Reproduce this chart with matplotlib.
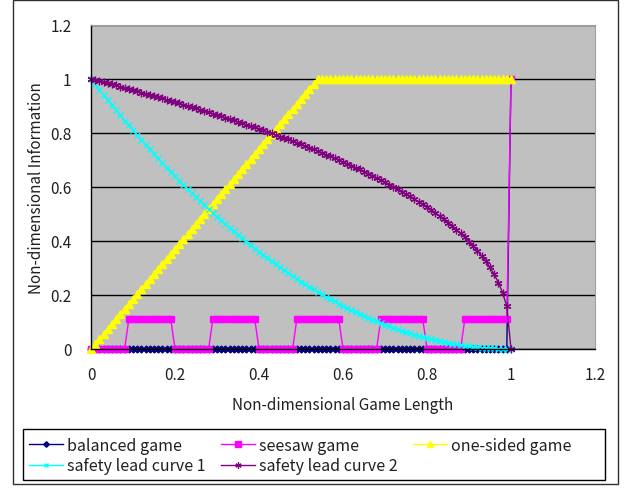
import numpy as np
import matplotlib
matplotlib.use('Agg')
import matplotlib.pyplot as plt
from matplotlib.patches import Rectangle
from matplotlib.ticker import FuncFormatter, MultipleLocator

plt.rcParams['font.family'] = ['Noto Sans CJK JP', 'DejaVu Sans']

# game length grid (0 .. 1, step 0.01)
game_length = [i / 100 for i in range(101)]

balanced = [0.0] * 100 + [1.0]

seesaw = ([0.0] * 9 + [0.11] * 11 + [0.0] * 9 + [0.11] * 11 + [0.0] * 9 + [0.11] * 11
          + [0.0] * 9 + [0.11] * 11 + [0.0] * 9 + [0.11] * 11 + [1.0])

one_sided = [0.0, 0.019, 0.037, 0.056, 0.074, 0.093, 0.111, 0.13, 0.148, 0.167,
             0.185, 0.204, 0.222, 0.241, 0.259, 0.278, 0.296, 0.315, 0.333, 0.352,
             0.37, 0.389, 0.407, 0.426, 0.444, 0.463, 0.481, 0.5, 0.519, 0.537,
             0.556, 0.574, 0.593, 0.611, 0.63, 0.648, 0.667, 0.685, 0.704, 0.722,
             0.741, 0.759, 0.778, 0.796, 0.815, 0.833, 0.852, 0.87, 0.889, 0.907,
             0.926, 0.944, 0.963, 0.981] + [1.0] * 47

safety1 = [1.0, 0.98, 0.96, 0.941, 0.922, 0.903, 0.884, 0.865, 0.846, 0.828,
           0.81, 0.792, 0.774, 0.757, 0.74, 0.723, 0.706, 0.689, 0.672, 0.656,
           0.64, 0.624, 0.608, 0.593, 0.578, 0.563, 0.548, 0.533, 0.518, 0.504,
           0.49, 0.476, 0.462, 0.449, 0.436, 0.423, 0.41, 0.397, 0.384, 0.372,
           0.36, 0.348, 0.336, 0.325, 0.314, 0.303, 0.292, 0.281, 0.27, 0.26,
           0.25, 0.24, 0.23, 0.221, 0.212, 0.203, 0.194, 0.185, 0.176, 0.168,
           0.16, 0.152, 0.144, 0.137, 0.13, 0.123, 0.116, 0.109, 0.102, 0.096,
           0.09, 0.084, 0.078, 0.073, 0.068, 0.063, 0.058, 0.053, 0.048, 0.044,
           0.04, 0.036, 0.032, 0.029, 0.026, 0.023, 0.02, 0.017, 0.014, 0.012,
           0.01, 0.008, 0.006, 0.005, 0.004, 0.003, 0.002, 0.001, 0.0, 0.0, 0.0]

safety2 = [1.0, 0.996, 0.992, 0.988, 0.984, 0.98, 0.976, 0.971, 0.967, 0.963,
           0.959, 0.954, 0.95, 0.946, 0.941, 0.937, 0.933, 0.928, 0.924, 0.919,
           0.915, 0.91, 0.905, 0.901, 0.896, 0.891, 0.887, 0.882, 0.877, 0.872,
           0.867, 0.862, 0.857, 0.852, 0.847, 0.842, 0.837, 0.831, 0.826, 0.821,
           0.815, 0.81, 0.804, 0.799, 0.793, 0.787, 0.782, 0.776, 0.77, 0.764,
           0.758, 0.752, 0.746, 0.739, 0.733, 0.727, 0.72, 0.714, 0.707, 0.7,
           0.693, 0.686, 0.679, 0.672, 0.665, 0.657, 0.65, 0.642, 0.634, 0.626,
           0.618, 0.609, 0.601, 0.592, 0.583, 0.574, 0.565, 0.555, 0.546, 0.536,
           0.525, 0.515, 0.504, 0.492, 0.48, 0.468, 0.455, 0.442, 0.428, 0.414,
           0.398, 0.382, 0.364, 0.345, 0.325, 0.302, 0.276, 0.246, 0.209, 0.158, 0.0]

fig = plt.figure(figsize=(6.25, 4.89), dpi=100)
ax = fig.add_axes([91 / 625, 1 - 350 / 489, 504 / 625, 324 / 489])
ax.set_facecolor('#c0c0c0')

h1, = ax.plot(game_length, balanced, color='#000080', marker='D', markersize=3.5,
              lw=1, label='balanced game', clip_on=False)
h2, = ax.plot(game_length, seesaw, color='#ff00ff', marker='s', markersize=5,
              lw=1, label='seesaw game', clip_on=False)
h3, = ax.plot(game_length, one_sided, color='#ffff00', marker='^', markersize=5.5,
              lw=1, label='one-sided game', clip_on=False)
h4, = ax.plot(game_length, safety1, color='#00ffff', marker='x', markersize=3.8,
              mew=1, lw=1, label='safety lead curve 1', clip_on=False)
h5, = ax.plot(game_length, safety2, color='#800080', marker=(6, 2, 0), markersize=5.5,
              mew=0.9, lw=1, label='safety lead curve 2', clip_on=False)

ax.set_xlim(0, 1.2)
ax.set_ylim(0, 1.2)
ax.xaxis.set_major_locator(MultipleLocator(0.2))
ax.yaxis.set_major_locator(MultipleLocator(0.2))
fmt = FuncFormatter(lambda v, p: '%g' % round(v, 1))
ax.xaxis.set_major_formatter(fmt)
ax.yaxis.set_major_formatter(fmt)
ax.tick_params(length=0, labelsize=11, colors='#202020')
ax.tick_params(axis='y', pad=14)
ax.tick_params(axis='x', pad=12)

ax.yaxis.grid(True, color='black', lw=1)
ax.set_axisbelow(True)
for side in ['top', 'right']:
    ax.spines[side].set_color('#a0a0a0')
    ax.spines[side].set_linewidth(0.8)
for side in ['left', 'bottom']:
    ax.spines[side].set_color('black')
    ax.spines[side].set_linewidth(1)

ax.set_xlabel('Non-dimensional Game Length', fontsize=11, color='#202020')
ax.set_ylabel('Non-dimensional Information', fontsize=11, color='#202020')
ax.xaxis.set_label_coords(0.5, -0.145)
ax.yaxis.set_label_coords(-0.092, 0.5)

# legend entries laid out row by row like the original (3 columns)
leg = fig.legend([h1, h4, h2, h5, h3],
                 ['balanced game', 'safety lead curve 1', 'seesaw game',
                  'safety lead curve 2', 'one-sided game'],
                 ncol=3, loc='upper left',
                 bbox_to_anchor=(29 / 625, 1 - 438 / 489),
                 borderaxespad=0, borderpad=0, fontsize=11.5, frameon=False,
                 handlelength=2.1, handletextpad=0.3, labelspacing=0.2,
                 columnspacing=0.95, markerscale=0.8)
for t in leg.get_texts():
    t.set_color('#202020')

# legend box
fig.patches.append(Rectangle((23 / 625, 1 - 481 / 489), 582 / 625, 51 / 489,
                             transform=fig.transFigure, fill=False,
                             edgecolor='black', lw=1))
# chart border
fig.patches.append(Rectangle((13 / 625, 1 - 485 / 489), 605 / 625, 484 / 489,
                             transform=fig.transFigure, fill=False,
                             edgecolor='#303030', lw=1))

fig.savefig('out.png', dpi=100)
